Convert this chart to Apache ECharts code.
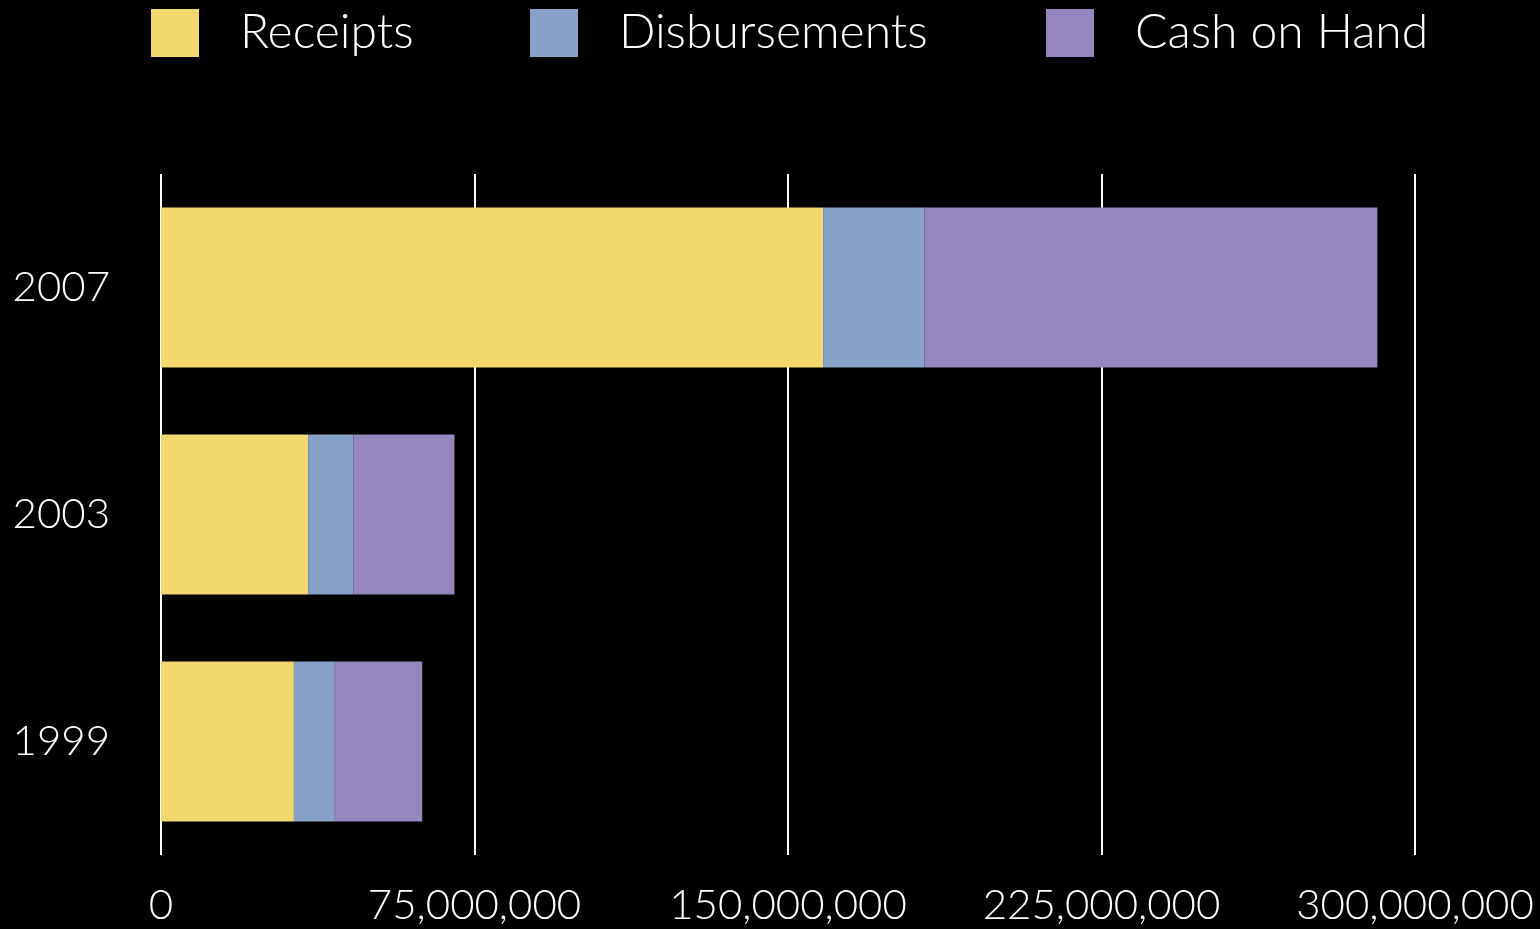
<!DOCTYPE html>
<html>
<head>
<meta charset="utf-8">
<title>Receipts, Disbursements and Cash on Hand</title>
<script src="https://cdn.jsdelivr.net/npm/echarts@6/dist/echarts.min.js"></script>
<style>
  html, body { margin: 0; padding: 0; background: #000; }
  #chart { width: 1540px; height: 929px; }
</style>
</head>
<body>
<div id="chart"></div>
<script>
// Campaign finance totals by year (US dollars)
const years = ['1999', '2003', '2007'];
const receipts = [31800000, 35200000, 158400000];
const disbursements = [9600000, 10800000, 24200000];
const cashOnHand = [21100000, 24200000, 108400000];
const xTicks = [0, 75000000, 150000000, 225000000, 300000000];

const seriesNames = ['Receipts', 'Disbursements', 'Cash on Hand'];
const seriesColors = ['#f2d86f', '#87a2c8', '#9586c0'];
const seriesData = [receipts, disbursements, cashOnHand];

const FONT = 'Lato';
const fmt = v => v.toLocaleString('en-US');

const chart = echarts.init(document.getElementById('chart'), null, { renderer: 'canvas' });

const legendLefts = [151, 530, 1046];

chart.setOption({
  backgroundColor: '#000',
  animation: false,
  textStyle: { fontFamily: FONT },
  legend: seriesNames.map((name, i) => ({
    data: [name],
    left: legendLefts[i],
    top: 9,
    padding: 0,
    itemWidth: 48,
    itemHeight: 48,
    icon: 'rect',
    selectedMode: false,
    textStyle: {
      color: '#fff',
      fontFamily: FONT,
      fontWeight: 300,
      fontSize: 48,
      padding: [0, 0, 0, 36]
    }
  })),
  grid: { left: 161, right: 125, top: 174, bottom: 74, containLabel: false },
  xAxis: {
    type: 'value',
    min: 0,
    max: xTicks[xTicks.length - 1],
    interval: xTicks[1] - xTicks[0],
    axisLine: { show: false },
    axisTick: { show: false },
    splitLine: { show: true, lineStyle: { color: '#fff', width: 2 } },
    axisLabel: {
      color: '#fff',
      fontFamily: FONT,
      fontWeight: 300,
      fontSize: 42,
      margin: 29,
      formatter: v => fmt(v)
    }
  },
  yAxis: {
    type: 'category',
    data: years,
    axisLine: { show: false },
    axisTick: { show: false },
    axisLabel: {
      color: '#fff',
      fontFamily: FONT,
      fontWeight: 300,
      fontSize: 42,
      margin: 51
    }
  },
  series: seriesNames.map((name, i) => ({
    name,
    type: 'bar',
    stack: 'total',
    data: seriesData[i],
    barWidth: 160,
    itemStyle: { color: seriesColors[i] }
  }))
});
</script>
</body>
</html>
